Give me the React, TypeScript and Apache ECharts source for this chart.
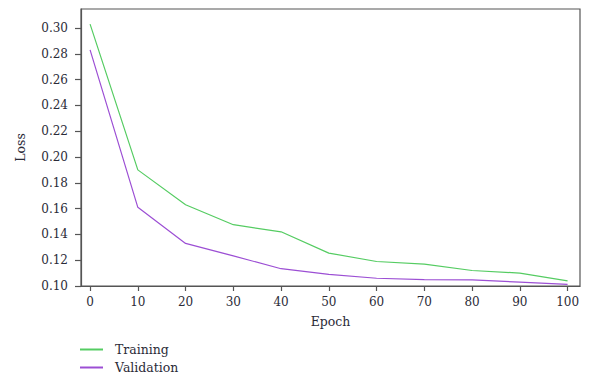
import React, { useEffect, useRef } from "react";
import * as echarts from "echarts";

const epochs = [0, 10, 20, 30, 40, 50, 60, 70, 80, 90, 100];
const trainingLoss = [0.303, 0.19, 0.163, 0.1475, 0.142, 0.1255, 0.119, 0.117, 0.112, 0.11, 0.104];
const validationLoss = [0.283, 0.161, 0.133, 0.1233, 0.1134, 0.109, 0.106, 0.105, 0.1047, 0.103, 0.1013];
const xTicks = [0, 10, 20, 30, 40, 50, 60, 70, 80, 90, 100];
const yTicks = [0.1, 0.12, 0.14, 0.16, 0.18, 0.2, 0.22, 0.24, 0.26, 0.28, 0.3];

const FONT = "DejaVu Serif";
const TEXT = "#2b2b38";
const AXIS = "#555555";

export default function App() {
  const ref = useRef<HTMLDivElement>(null);
  useEffect(() => {
    if (!ref.current) return;
    const chart = echarts.init(ref.current, null, { renderer: "svg" });
    chart.setOption({
      animation: false,
      backgroundColor: "#ffffff",
      grid: {
        left: 81,
        right: 10,
        top: 9,
        bottom: 90,
        show: true,
        borderColor: AXIS,
        borderWidth: 1.2,
        containLabel: false,
      },
      legend: {
        orient: "vertical",
        left: 80,
        top: 343,
        height: 45,
        padding: 0,
        itemWidth: 23,
        itemHeight: 2,
        itemGap: 5,
        icon: "rect",
        textStyle: {
          fontFamily: FONT,
          fontSize: 12.5,
          color: TEXT,
          padding: [0, 0, 0, 7],
        },
        data: ["Training", "Validation"],
      },
      xAxis: {
        type: "value",
        min: -1.9,
        max: 102.6,
        name: "Epoch",
        nameLocation: "middle",
        nameGap: 29,
        nameTextStyle: { fontFamily: FONT, fontSize: 12.5, color: TEXT },
        axisLine: { show: true, onZero: false, lineStyle: { color: AXIS, width: 1.2 } },
        axisTick: {
          show: true,
          length: 5,
          customValues: xTicks,
          lineStyle: { color: AXIS, width: 1.2 },
        },
        axisLabel: {
          customValues: xTicks,
          margin: 10,
          fontFamily: FONT,
          fontSize: 12,
          color: TEXT,
        },
        splitLine: { show: false },
      },
      yAxis: {
        type: "value",
        min: 0.1,
        max: 0.3147,
        name: "Loss",
        nameLocation: "middle",
        nameGap: 54,
        nameTextStyle: { fontFamily: FONT, fontSize: 12.5, color: TEXT },
        axisLine: { show: true, onZero: false, lineStyle: { color: AXIS, width: 1.2 } },
        axisTick: {
          show: true,
          length: 6,
          customValues: yTicks,
          lineStyle: { color: AXIS, width: 1.2 },
        },
        axisLabel: {
          customValues: yTicks,
          margin: 13,
          fontFamily: FONT,
          fontSize: 12,
          color: TEXT,
          formatter: (v: number) => v.toFixed(2),
        },
        splitLine: { show: false },
      },
      series: [
        {
          name: "Training",
          type: "line",
          data: epochs.map((e, i) => [e, trainingLoss[i]]),
          showSymbol: false,
          symbol: "none",
          lineStyle: { color: "#55cc62", width: 1.2 },
          itemStyle: { color: "#55cc62" },
        },
        {
          name: "Validation",
          type: "line",
          data: epochs.map((e, i) => [e, validationLoss[i]]),
          showSymbol: false,
          symbol: "none",
          lineStyle: { color: "#9c4fd4", width: 1.2 },
          itemStyle: { color: "#9c4fd4" },
        },
      ],
    });
    return () => chart.dispose();
  }, []);
  return (
    <div
      ref={ref}
      style={{ position: "fixed", left: 0, top: 0, width: 590, height: 376, background: "#fff" }}
    />
  );
}
